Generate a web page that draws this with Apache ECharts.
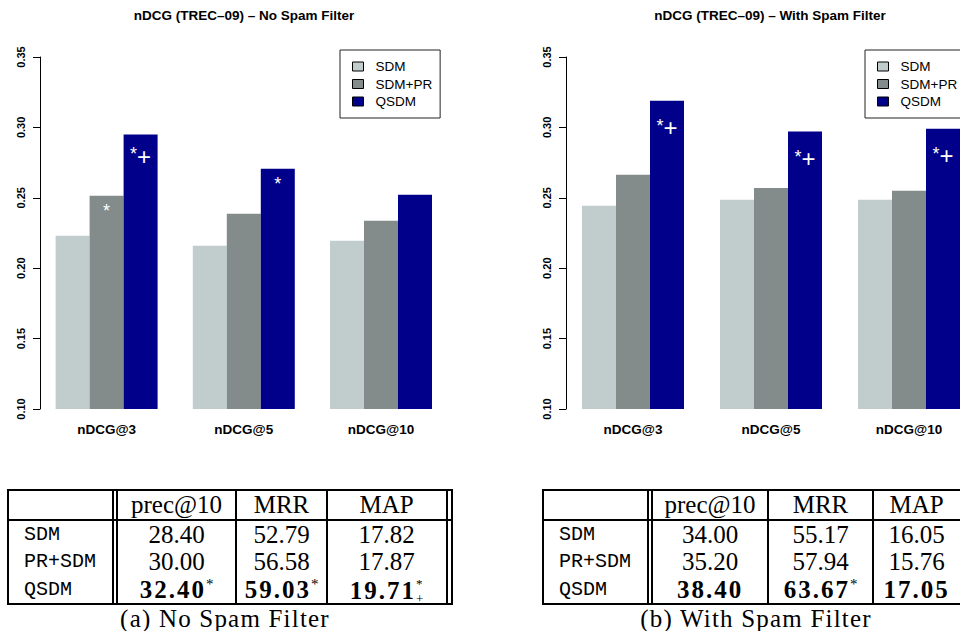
<!DOCTYPE html>
<html>
<head>
<meta charset="utf-8">
<script src="https://cdn.jsdelivr.net/npm/echarts@6/dist/echarts.min.js"></script>
<style>
  html, body { margin: 0; padding: 0; background: #fff; }
  #wrap { position: relative; width: 960px; height: 631px; overflow: hidden; }
  #chart { position: absolute; left: 0; top: 0; width: 960px; height: 631px; }
  .ln { position: absolute; background: #000; }
  .cell { position: absolute; font-family: 'Liberation Serif', serif; font-size: 25px; color: #000; white-space: nowrap; text-align: center; }
  .cell.name { font-family: 'Liberation Mono', monospace; font-size: 20px; text-align: left; }
  .cell b { letter-spacing: 2px; }
  .sup { font-weight: normal; font-size: 15px; position: relative; top: -9px; letter-spacing: 0; }
  .stk { display: inline-block; font-weight: normal; font-size: 13px; line-height: 15px; vertical-align: -4px; letter-spacing: 0; text-align: left; }
  .stk i { display: block; font-style: normal; }
  .caption { position: absolute; font-family: 'Liberation Serif', serif; font-size: 25px; line-height: 25px; letter-spacing: 1.2px; white-space: nowrap; transform: translateX(-50%); }
</style>
</head>
<body>
<div id="wrap">
  <div id="chart"></div>
</div>
<script>
// bar charts
const chartTitles = ['nDCG (TREC–09) – No Spam Filter', 'nDCG (TREC–09) – With Spam Filter'];
const categories = ['nDCG@3', 'nDCG@5', 'nDCG@10'];
const methods = ['SDM', 'SDM+PR', 'QSDM'];
const colors = ['#c1cdcd', '#838b8b', '#00008b'];

const noSpamSDM = [0.223, 0.216, 0.2195];
const noSpamSDMPR = [0.2515, 0.2387, 0.2337];
const noSpamQSDM = [0.295, 0.2707, 0.2522];
const spamSDM = [0.2444, 0.2486, 0.2486];
const spamSDMPR = [0.2664, 0.257, 0.255];
const spamQSDM = [0.319, 0.297, 0.299];

// significance marks drawn on the bars
const noMarks = ['', '', ''];
const noSpamMarksSDMPR = ['*', '', ''];
const noSpamMarksQSDM = ['*+', '*', ''];
const spamMarksQSDM = ['*+', '*+', '*+'];

const yTicks = [0.10, 0.15, 0.20, 0.25, 0.30, 0.35];

// tables
const tableHeads = ['prec@10', 'MRR', 'MAP'];
const tableRows = ['SDM', 'PR+SDM', 'QSDM'];
const noSpamTable = [['28.40', '52.79', '17.82'], ['30.00', '56.58', '17.87'], ['32.40', '59.03', '19.71']];
const noSpamTableMarks = ['*', '*', '*+'];
const spamTable = [['34.00', '55.17', '16.05'], ['35.20', '57.94', '15.76'], ['38.40', '63.67', '17.05']];
const spamTableMarks = ['', '*', ''];
const captions = ['(a) No Spam Filter', '(b) With Spam Filter'];

const FONT = 'Liberation Sans';

const chart = echarts.init(document.getElementById('chart'), null, { renderer: 'svg' });

function markText(m) {
  if (m === '*') return '{s|*}';
  if (m === '*+') return '{s|*}{p|+}';
  return '';
}

function bar(name, idx, vals, marks, color, dist) {
  return {
    name: name,
    type: 'bar',
    xAxisIndex: idx,
    yAxisIndex: idx,
    data: vals,
    barWidth: 34,
    barGap: '0%',
    itemStyle: { color: color },
    label: {
      show: true,
      position: 'insideTop',
      distance: dist,
      formatter: function (p) { return markText(marks[p.dataIndex]); },
      rich: {
        s: { fontSize: 18, color: '#fff', fontFamily: FONT },
        p: { fontSize: 24, color: '#fff', fontFamily: FONT, padding: [4, 0, 0, 0] }
      }
    },
    emphasis: { disabled: true },
    animation: false
  };
}

function yAxisFor(idx) {
  return {
    type: 'value',
    gridIndex: idx,
    min: yTicks[0],
    max: yTicks[yTicks.length - 1],
    interval: 0.05,
    offset: -2,
    axisLine: { show: true, lineStyle: { color: '#000', width: 1 } },
    axisTick: { show: true, length: 7, lineStyle: { color: '#000' } },
    splitLine: { show: false },
    axisLabel: {
      rotate: 90,
      margin: 14,
      showMinLabel: true,
      showMaxLabel: true,
      fontSize: 11,
      fontWeight: 'bold',
      color: '#000',
      fontFamily: FONT,
      formatter: function (v) { return v.toFixed(2); }
    }
  };
}

function xAxisFor(idx) {
  return {
    type: 'category',
    gridIndex: idx,
    data: categories,
    axisLine: { show: false },
    axisTick: { show: false },
    axisLabel: { margin: 13, fontSize: 13.5, fontWeight: 'bold', color: '#000', fontFamily: FONT }
  };
}

function legendAt(x) {
  return {
    left: x,
    top: 50,
    orient: 'vertical',
    data: methods,
    selectedMode: false,
    icon: 'rect',
    itemWidth: 11,
    itemHeight: 9,
    itemGap: 2.5,
    padding: [9, 8, 9, 12],
    borderColor: '#222',
    borderWidth: 1,
    itemStyle: { borderColor: '#000', borderWidth: 1 },
    textStyle: { fontFamily: FONT, fontSize: 13.5, color: '#000', lineHeight: 15, padding: [0, 0, 0, 7] }
  };
}

function titleAt(text, x) {
  return {
    text: text,
    left: x,
    top: 8,
    textAlign: 'center',
    padding: 0,
    textStyle: { fontFamily: FONT, fontSize: 13.5, fontWeight: 'bold', color: '#000' }
  };
}

chart.setOption({
  backgroundColor: '#fff',
  animation: false,
  title: [titleAt(chartTitles[0], 244), titleAt(chartTitles[1], 770)],
  legend: [legendAt(340), legendAt(865)],
  grid: [
    { left: 38, top: 57, width: 411.6, height: 352, outerBoundsMode: 'none' },
    { left: 564, top: 57, width: 414, height: 352, outerBoundsMode: 'none' }
  ],
  xAxis: [xAxisFor(0), xAxisFor(1)],
  yAxis: [yAxisFor(0), yAxisFor(1)],
  series: [
    bar(methods[0], 0, noSpamSDM, noMarks, colors[0], 6),
    bar(methods[1], 0, noSpamSDMPR, noSpamMarksSDMPR, colors[1], 6),
    bar(methods[2], 0, noSpamQSDM, noSpamMarksQSDM, colors[2], 6),
    bar(methods[0], 1, spamSDM, noMarks, colors[0], 11),
    bar(methods[1], 1, spamSDMPR, noMarks, colors[1], 11),
    bar(methods[2], 1, spamQSDM, spamMarksQSDM, colors[2], 11)
  ]
});

// ---- tables (HTML, laid over the chart) ----
const wrap = document.getElementById('wrap');

const tableLayouts = [
  { vlines: [8, 113, 117, 236, 327, 446.5, 451.5], cols: [[24, 112], [118, 235], [237, 326], [328, 445]], captionX: 225 },
  { vlines: [543, 648, 652, 768, 872.5, 961, 966], cols: [[559, 647], [653, 767], [769, 872], [873, 960]], captionX: 756 }
];
const hlineY = [490, 520, 604];
const rowBands = [[491, 519], [521, 548.3], [548.3, 575.7], [575.7, 603]];

function addLine(x, y, w, h) {
  const d = document.createElement('div');
  d.className = 'ln';
  d.style.left = x + 'px';
  d.style.top = y + 'px';
  d.style.width = w + 'px';
  d.style.height = h + 'px';
  wrap.appendChild(d);
}

function addCell(html, col, band, isName) {
  const d = document.createElement('div');
  d.className = isName ? 'cell name' : 'cell';
  d.style.left = col[0] + 'px';
  d.style.width = (col[1] - col[0]) + 'px';
  d.style.top = band[0] + 'px';
  d.style.height = (band[1] - band[0]) + 'px';
  d.style.lineHeight = (band[1] - band[0]) + 'px';
  d.innerHTML = html;
  wrap.appendChild(d);
}

function tableMark(m) {
  if (m === '*') return '<span class="sup">*</span>';
  if (m === '*+') return '<span class="stk"><i>*</i><i>+</i></span>';
  return '';
}

function drawTable(lay, values, marks, caption) {
  const v = lay.vlines;
  const x0 = v[0] - 1, x1 = v[v.length - 1] + 1;
  hlineY.forEach(function (y) { addLine(x0, y - 1, x1 - x0, 2); });
  v.forEach(function (x) { addLine(x - 1, hlineY[0] - 1, 2, hlineY[2] - hlineY[0] + 2); });
  tableHeads.forEach(function (h, j) { addCell(h, lay.cols[j + 1], rowBands[0], false); });
  tableRows.forEach(function (r, i) {
    addCell(r, lay.cols[0], rowBands[i + 1], true);
    values[i].forEach(function (val, j) {
      let html = val;
      if (i === tableRows.length - 1) html = '<b>' + val + '</b>' + tableMark(marks[j]);
      addCell(html, lay.cols[j + 1], rowBands[i + 1], false);
    });
  });
  const c = document.createElement('div');
  c.className = 'caption';
  c.style.left = lay.captionX + 'px';
  c.style.top = '606px';
  c.textContent = caption;
  wrap.appendChild(c);
}

drawTable(tableLayouts[0], noSpamTable, noSpamTableMarks, captions[0]);
drawTable(tableLayouts[1], spamTable, spamTableMarks, captions[1]);
</script>
</body>
</html>
